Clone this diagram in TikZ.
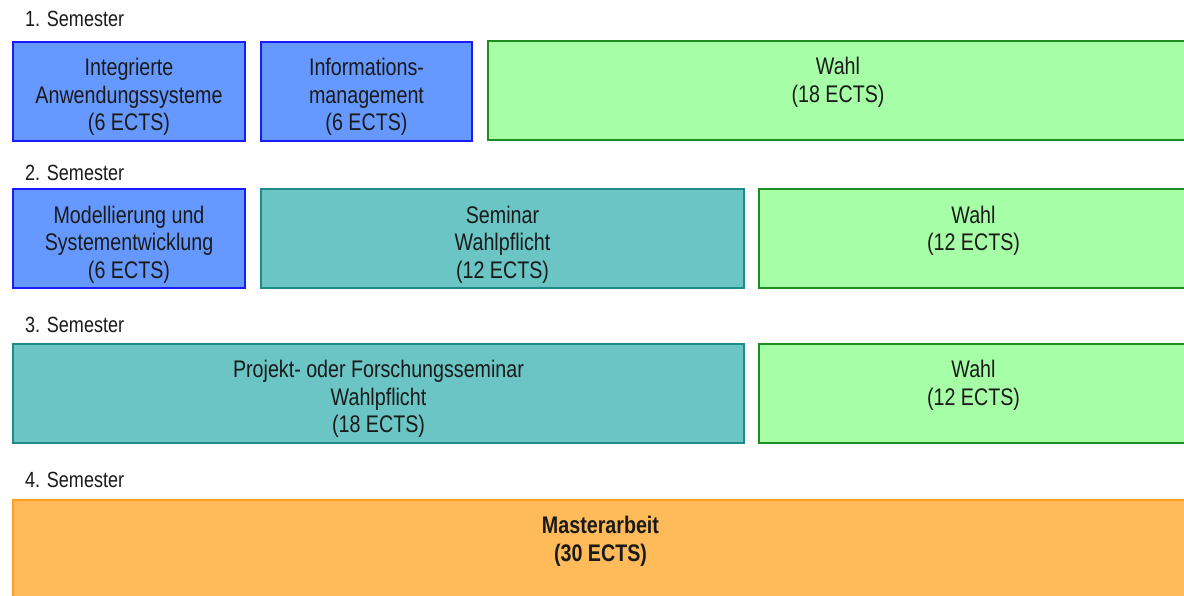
\documentclass[tikz,border=0pt]{standalone}
\usepackage{fontspec}
\setmainfont{Liberation Sans}[FakeStretch=0.82]
\usetikzlibrary{positioning}

\definecolor{bluefill}{HTML}{6699FF}
\definecolor{blueline}{HTML}{1A1AFF}
\definecolor{greenfill}{HTML}{A6FFA6}
\definecolor{greenline}{HTML}{1E8C1E}
\definecolor{tealfill}{HTML}{6BC5C5}
\definecolor{tealline}{HTML}{1E8A8A}
\definecolor{orangefill}{HTML}{FFBB5A}
\definecolor{orangeline}{HTML}{FF9F1A}
\definecolor{ink}{HTML}{1A1A1A}

\begin{document}
\begin{tikzpicture}[x=1pt,y=-1pt,
  box/.style={rectangle, draw, line width=2pt, anchor=north west, inner sep=0pt, outer sep=0pt},
  pflicht/.style={box, fill=bluefill, draw=blueline},
  wahl/.style={box, fill=greenfill, draw=greenline},
  wpf/.style={box, fill=tealfill, draw=tealline},
  thesis/.style={box, fill=orangefill, draw=orangeline},
  boxtext/.style={inner sep=0pt, align=center, text=ink, font=\fontsize{24}{27.5}\selectfont},
  semlabel/.style={anchor=base west, inner sep=0pt, text=ink, font=\fontsize{22}{26}\selectfont}
]
\clip (0,0) rectangle (1184,596);
\useasboundingbox (0,0) rectangle (1184,596);

% semester 1
\node[semlabel] (s1) at (25,27) {1. Semester};
\node[pflicht, minimum width=232pt, minimum height=99pt] (ias) at (13,42) {};
\node[pflicht, minimum width=211pt, minimum height=99pt] (im) at (261,42) {};
\node[wahl, minimum width=700pt, minimum height=99pt] (w1) at (488,41) {};
\node[boxtext, below=16pt of ias.north] (tias) {Integrierte\\Anwendungssysteme\\(6 ECTS)};
\node[boxtext, below=16pt of im.north] (tim) {Informations-\\management\\(6 ECTS)};
\node[boxtext, below=16pt of w1.north] (tw1) {Wahl\\(18 ECTS)};

% semester 2
\node[semlabel] (s2) at (25,181) {2. Semester};
\node[pflicht, minimum width=232pt, minimum height=99pt] (mse) at (13,189) {};
\node[wpf, minimum width=483pt, minimum height=99pt] (sem) at (261,189) {};
\node[wahl, minimum width=429pt, minimum height=99pt] (w2) at (759,189) {};
\node[boxtext, below=16.5pt of mse.north] (tmse) {Modellierung und\\Systementwicklung\\(6 ECTS)};
\node[boxtext, below=16.5pt of sem.north] (tsem) {Seminar\\Wahlpflicht\\(12 ECTS)};
\node[boxtext, below=16.5pt of w2.north] (tw2) {Wahl\\(12 ECTS)};

% semester 3
\node[semlabel] (s3) at (25,332) {3. Semester};
\node[wpf, minimum width=731pt, minimum height=99pt] (pfs) at (13,344) {};
\node[wahl, minimum width=429pt, minimum height=99pt] (w3) at (759,344) {};
\node[boxtext, below=16pt of pfs.north] (tpfs) {Projekt- oder Forschungsseminar\\Wahlpflicht\\(18 ECTS)};
\node[boxtext, below=16pt of w3.north] (tw3) {Wahl\\(12 ECTS)};

% semester 4
\node[semlabel] (s4) at (25,487) {4. Semester};
\node[thesis, minimum width=1175pt, minimum height=120pt] (ma) at (13,500) {};
\node[boxtext, below=16pt of ma.north, font=\fontsize{24}{27.5}\selectfont\bfseries] (tma) {Masterarbeit\\(30 ECTS)};
\end{tikzpicture}
\end{document}
